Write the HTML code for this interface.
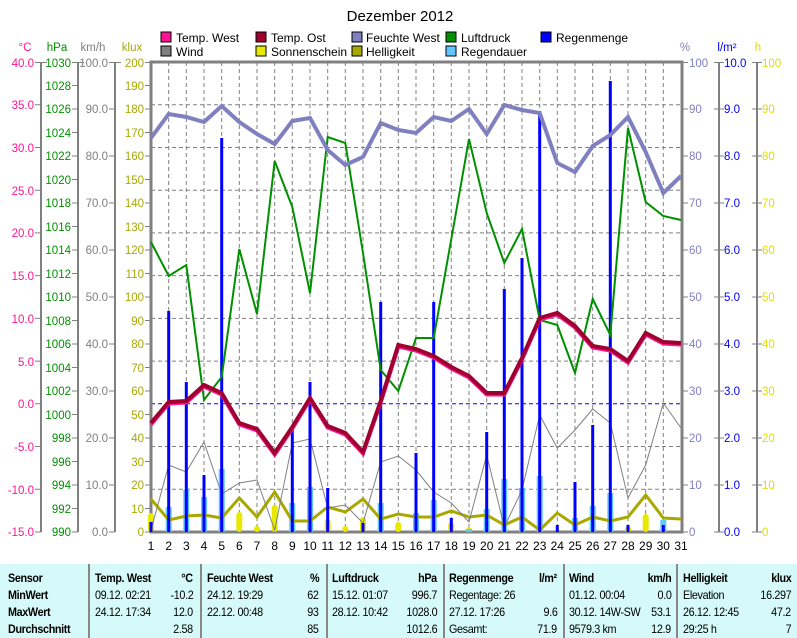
<!DOCTYPE html>
<html><head><meta charset="utf-8"><style>
body{margin:0;width:797px;height:638px;background:#fff;overflow:hidden;position:relative;font-family:"Liberation Sans",sans-serif}
svg{position:absolute;left:0;top:0}
#tb{position:absolute;left:0;top:564px;width:797px;height:74px;background:#d6fafa;font-family:"Liberation Sans Narrow","Liberation Sans",sans-serif;font-size:12px;color:#000}
.c{position:absolute;top:0;height:74px;border-left:2px solid #888}
.t{position:absolute;white-space:nowrap;line-height:17px;letter-spacing:-0.4px}
.l{transform-origin:left center;transform:scaleX(0.9)}
.r{transform-origin:right center;transform:scaleX(0.9)}
.b{font-weight:bold}
</style></head><body>
<svg width="797" height="564" xmlns="http://www.w3.org/2000/svg" font-family="Liberation Sans, sans-serif" font-size="11.5">
<text x="400" y="21" text-anchor="middle" font-size="15">Dezember 2012</text>
<g font-size="12">
<rect x="161" y="32" width="10" height="10" fill="#ff1493" stroke="#000"/><text x="176" y="42">Temp. West</text>
<rect x="161" y="46" width="10" height="10" fill="#808080" stroke="#000"/><text x="176" y="56">Wind</text>
<rect x="256" y="32" width="10" height="10" fill="#a00030" stroke="#000"/><text x="271" y="42">Temp. Ost</text>
<rect x="256" y="46" width="10" height="10" fill="#e8e800" stroke="#000"/><text x="271" y="56">Sonnenschein</text>
<rect x="352" y="32" width="10" height="10" fill="#8080c0" stroke="#000"/><text x="366" y="42">Feuchte West</text>
<rect x="352" y="46" width="10" height="10" fill="#a8a800" stroke="#000"/><text x="366" y="56">Helligkeit</text>
<rect x="446" y="32" width="10" height="10" fill="#009000" stroke="#000"/><text x="461" y="42">Luftdruck</text>
<rect x="446" y="46" width="10" height="10" fill="#60c8ff" stroke="#000"/><text x="461" y="56">Regendauer</text>
<rect x="541" y="32" width="10" height="10" fill="#0000ff" stroke="#000"/><text x="556" y="42">Regenmenge</text>
</g>
<text x="25" y="51" fill="#ff1493" text-anchor="middle">°C</text>
<text x="57" y="51" fill="#009000" text-anchor="middle">hPa</text>
<text x="93" y="51" fill="#808080" text-anchor="middle">km/h</text>
<text x="132" y="51" fill="#a8a800" text-anchor="middle">klux</text>
<text x="685" y="51" fill="#8080c0" text-anchor="middle">%</text>
<text x="727" y="51" fill="#0000ff" text-anchor="middle">l/m²</text>
<text x="758" y="51" fill="#e0e000" text-anchor="middle">h</text>
<g stroke="#808080" stroke-dasharray="4,3" stroke-width="1">
<path d="M168.7 62V532M186.3 62V532M204 62V532M221.7 62V532M239.3 62V532M257 62V532M274.7 62V532M292.3 62V532M310 62V532M327.7 62V532M345.3 62V532M363 62V532M380.7 62V532M398.3 62V532M416 62V532M433.7 62V532M451.3 62V532M469 62V532M486.7 62V532M504.3 62V532M522 62V532M539.7 62V532M557.3 62V532M575 62V532M592.7 62V532M610.3 62V532M628 62V532M645.7 62V532M663.3 62V532"/>
<path d="M151 104.7H681M151 147.5H681M151 190.2H681M151 232.9H681M151 275.6H681M151 318.4H681M151 361.1H681M151 446.5H681M151 489.3H681"/>
</g>
<path d="M151 403.8H681" stroke="#0000ff" stroke-dasharray="4,3"/>
<g stroke="#808080" stroke-width="2" fill="none">
<path d="M41 62V532M78 62V532M115 62V532M719 62V532M757 62V532"/>
<rect x="151" y="62" width="531" height="470" stroke-width="3"/>
</g>
<g stroke="#808080" stroke-width="1">
<path d="M35 62.5h12M35 104.7h6M35 147.5h6M35 190.2h6M35 232.9h6M35 275.6h6M35 318.4h6M35 361.1h6M35 403.8h6M35 446.5h6M35 489.3h6M35 532h6"/>
<path d="M72 62.5h12M72 85.5h6M72 109h6M72 132.5h6M72 156h6M72 179.5h6M72 203h6M72 226.5h6M72 250h6M72 273.5h6M72 297h6M72 320.5h6M72 344h6M72 367.5h6M72 391h6M72 414.5h6M72 438h6M72 461.5h6M72 485h6M72 508.5h6M72 532h6"/>
<path d="M109 62.5h12M109 109h6M109 156h6M109 203h6M109 250h6M109 297h6M109 344h6M109 391h6M109 438h6M109 485h6M109 532h6"/>
<path d="M145 62.5h6M145 85.5h6M145 109h6M145 132.5h6M145 156h6M145 179.5h6M145 203h6M145 226.5h6M145 250h6M145 273.5h6M145 297h6M145 320.5h6M145 344h6M145 367.5h6M145 391h6M145 414.5h6M145 438h6M145 461.5h6M145 485h6M145 508.5h6M145 532h6"/>
<path d="M682 62.5h6M682 109h6M682 156h6M682 203h6M682 250h6M682 297h6M682 344h6M682 391h6M682 438h6M682 485h6M682 532h6"/>
<path d="M714 62.5h10M714 109h10M714 156h10M714 203h10M714 250h10M714 297h10M714 344h10M714 391h10M714 438h10M714 485h10M714 532h10"/>
<path d="M752 62.5h10M752 109h10M752 156h10M752 203h10M752 250h10M752 297h10M752 344h10M752 391h10M752 438h10M752 485h10M752 532h10"/>
</g>
<g fill="#ff1493" text-anchor="end">
<text x="34" y="67">40.0</text><text x="34" y="109">35.0</text><text x="34" y="152">30.0</text><text x="34" y="195">25.0</text><text x="34" y="237">20.0</text><text x="34" y="280">15.0</text><text x="34" y="323">10.0</text><text x="34" y="366">5.0</text><text x="34" y="408">0.0</text><text x="34" y="451">-5.0</text><text x="34" y="494">-10.0</text><text x="34" y="536">-15.0</text>
</g>
<g fill="#009000" text-anchor="end">
<text x="71" y="67">1030</text><text x="71" y="90">1028</text><text x="71" y="113">1026</text><text x="71" y="137">1024</text><text x="71" y="160">1022</text><text x="71" y="184">1020</text><text x="71" y="207">1018</text><text x="71" y="231">1016</text><text x="71" y="254">1014</text><text x="71" y="278">1012</text><text x="71" y="301">1010</text><text x="71" y="325">1008</text><text x="71" y="348">1006</text><text x="71" y="372">1004</text><text x="71" y="395">1002</text><text x="71" y="419">1000</text><text x="71" y="442">998</text><text x="71" y="466">996</text><text x="71" y="489">994</text><text x="71" y="513">992</text><text x="71" y="536">990</text>
</g>
<g fill="#808080" text-anchor="end">
<text x="108" y="67">100.0</text><text x="108" y="113">90.0</text><text x="108" y="160">80.0</text><text x="108" y="207">70.0</text><text x="108" y="254">60.0</text><text x="108" y="301">50.0</text><text x="108" y="348">40.0</text><text x="108" y="395">30.0</text><text x="108" y="442">20.0</text><text x="108" y="489">10.0</text><text x="108" y="536">0.0</text>
</g>
<g fill="#a8a800" text-anchor="end">
<text x="144" y="67">200</text><text x="144" y="90">190</text><text x="144" y="113">180</text><text x="144" y="137">170</text><text x="144" y="160">160</text><text x="144" y="184">150</text><text x="144" y="207">140</text><text x="144" y="231">130</text><text x="144" y="254">120</text><text x="144" y="278">110</text><text x="144" y="301">100</text><text x="144" y="325">90</text><text x="144" y="348">80</text><text x="144" y="372">70</text><text x="144" y="395">60</text><text x="144" y="419">50</text><text x="144" y="442">40</text><text x="144" y="466">30</text><text x="144" y="489">20</text><text x="144" y="513">10</text><text x="144" y="536">0</text>
</g>
<g fill="#8080c0">
<text x="689" y="67">100</text><text x="689" y="113">90</text><text x="689" y="160">80</text><text x="689" y="207">70</text><text x="689" y="254">60</text><text x="689" y="301">50</text><text x="689" y="348">40</text><text x="689" y="395">30</text><text x="689" y="442">20</text><text x="689" y="489">10</text><text x="689" y="536">0</text>
</g>
<g fill="#0000ff">
<text x="724" y="67">10.0</text><text x="724" y="113">9.0</text><text x="724" y="160">8.0</text><text x="724" y="207">7.0</text><text x="724" y="254">6.0</text><text x="724" y="301">5.0</text><text x="724" y="348">4.0</text><text x="724" y="395">3.0</text><text x="724" y="442">2.0</text><text x="724" y="489">1.0</text><text x="724" y="536">0.0</text>
</g>
<g fill="#e0e000">
<text x="762" y="67">100</text><text x="762" y="113">90</text><text x="762" y="160">80</text><text x="762" y="207">70</text><text x="762" y="254">60</text><text x="762" y="301">50</text><text x="762" y="348">40</text><text x="762" y="395">30</text><text x="762" y="442">20</text><text x="762" y="489">10</text><text x="762" y="536">0</text>
</g>
<g text-anchor="middle" font-size="12">
<text x="151" y="550">1</text><text x="168.7" y="550">2</text><text x="186.3" y="550">3</text><text x="204" y="550">4</text><text x="221.7" y="550">5</text><text x="239.3" y="550">6</text><text x="257" y="550">7</text><text x="274.7" y="550">8</text><text x="292.3" y="550">9</text><text x="310" y="550">10</text><text x="327.7" y="550">11</text><text x="345.3" y="550">12</text><text x="363" y="550">13</text><text x="380.7" y="550">14</text><text x="398.3" y="550">15</text><text x="416" y="550">16</text><text x="433.7" y="550">17</text><text x="451.3" y="550">18</text><text x="469" y="550">19</text><text x="486.7" y="550">20</text><text x="504.3" y="550">21</text><text x="522" y="550">22</text><text x="539.7" y="550">23</text><text x="557.3" y="550">24</text><text x="575" y="550">25</text><text x="592.7" y="550">26</text><text x="610.3" y="550">27</text><text x="628" y="550">28</text><text x="645.7" y="550">29</text><text x="663.3" y="550">30</text><text x="681" y="550">31</text>
</g>
<g fill="#e8e800">
<rect x="148" y="513" width="6" height="19" rx="3"/><rect x="183.3" y="528" width="6" height="4" rx="2"/><rect x="201" y="526" width="6" height="6" rx="3"/><rect x="236.3" y="512" width="6" height="20" rx="3"/><rect x="254" y="526" width="6" height="6" rx="3"/><rect x="271.7" y="505" width="6" height="27" rx="3"/><rect x="324.7" y="519" width="6" height="13" rx="3"/><rect x="342.3" y="526" width="6" height="6" rx="3"/><rect x="360" y="517" width="6" height="15" rx="3"/><rect x="395.3" y="522" width="6" height="10" rx="3"/><rect x="448.3" y="522" width="6" height="10" rx="3"/><rect x="466" y="528" width="6" height="4" rx="2"/><rect x="642.7" y="514" width="6" height="18" rx="3"/><rect x="589.7" y="527" width="6" height="5" rx="2"/><rect x="625" y="527" width="6" height="5" rx="2"/><rect x="660.3" y="528" width="6" height="4" rx="2"/>
</g>
<g fill="#60c8ff">
<rect x="165.7" y="507" width="6" height="25"/><rect x="183.3" y="490" width="6" height="42"/><rect x="201" y="497" width="6" height="35"/><rect x="218.7" y="469" width="6" height="63"/><rect x="289.3" y="503" width="6" height="29"/><rect x="307" y="487" width="6" height="45"/><rect x="377.7" y="503" width="6" height="29"/><rect x="413" y="513" width="6" height="19"/><rect x="430.7" y="500" width="6" height="32"/><rect x="466" y="529" width="6" height="3"/><rect x="483.7" y="509" width="6" height="23"/><rect x="501.3" y="479" width="6" height="53"/><rect x="519" y="488" width="6" height="44"/><rect x="536.7" y="476" width="6" height="56"/><rect x="572" y="518" width="6" height="14"/><rect x="589.7" y="506" width="6" height="26"/><rect x="607.3" y="493" width="6" height="39"/><rect x="660.3" y="520" width="6" height="12"/>
</g>
<polyline fill="none" stroke="#a8a800" stroke-width="3" points="151,499 168.7,520 186.3,516 204,515 221.7,518 239.3,498 257,517 274.7,492 292.3,521 310,521 327.7,507 345.3,512 363,499 380.7,519 398.3,514 416,517 433.7,517 451.3,511 469,517 486.7,515 504.3,525 522,517 539.7,530 557.3,513 575,525 592.7,517 610.3,521 628,517 645.7,495 663.3,518 681,519"/>
<polyline fill="none" stroke="#808080" stroke-width="1" points="151,530 168.7,465 186.3,472 204,442 221.7,494 239.3,483 257,480 274.7,530 292.3,443 310,439 327.7,508 345.3,505 363,523 380.7,462 398.3,456 416,470 433.7,492 451.3,503 469,522 486.7,455 504.3,527 522,490 539.7,415 557.3,448 575,430 592.7,409 610.3,423 628,498 645.7,465 663.3,403 681,428"/>
<g fill="#0000ff">
<rect x="149.5" y="522" width="3" height="10"/><rect x="167.2" y="311" width="3" height="221"/><rect x="184.8" y="382" width="3" height="150"/><rect x="202.5" y="475" width="3" height="57"/><rect x="220.2" y="138" width="3" height="394"/><rect x="290.8" y="428" width="3" height="104"/><rect x="308.5" y="382" width="3" height="150"/><rect x="326.2" y="488" width="3" height="44"/><rect x="361.5" y="523" width="3" height="9"/><rect x="379.2" y="302" width="3" height="230"/><rect x="414.5" y="453" width="3" height="79"/><rect x="432.2" y="302" width="3" height="230"/><rect x="449.8" y="518" width="3" height="14"/><rect x="485.2" y="432" width="3" height="100"/><rect x="502.8" y="289" width="3" height="243"/><rect x="520.5" y="258" width="3" height="274"/><rect x="538.2" y="111" width="3" height="421"/><rect x="555.8" y="525" width="3" height="7"/><rect x="573.5" y="482" width="3" height="50"/><rect x="591.2" y="425" width="3" height="107"/><rect x="608.8" y="81" width="3" height="451"/><rect x="626.5" y="525" width="3" height="7"/><rect x="661.8" y="525" width="3" height="7"/>
</g>
<polyline fill="none" stroke="#009000" stroke-width="2" points="151,242 168.7,276 186.3,265 204,400 221.7,377 239.3,249 257,314 274.7,161 292.3,207 310,293 327.7,137 345.3,143 363,253 380.7,370 398.3,391 416,338 433.7,338 451.3,239 469,139 486.7,213 504.3,263 522,229 539.7,320 557.3,325 575,373 592.7,299 610.3,335 628,128 645.7,202 663.3,216 681,220"/>
<polyline fill="none" stroke="#8080c0" stroke-width="4" points="151,138 168.7,114 186.3,117 204,122 221.7,106 239.3,122 257,134 274.7,144 292.3,121 310,118 327.7,150 345.3,165 363,157 380.7,123 398.3,130 416,133 433.7,117 451.3,121 469,109 486.7,134 504.3,105 522,110 539.7,113 557.3,163 575,172 592.7,146 610.3,135 628,117 645.7,152 663.3,193 681,176"/>
<polyline fill="none" stroke="#ff1493" stroke-width="4" transform="translate(0,1.5)" points="151,423 168.7,402 186.3,401 204,385 221.7,393 239.3,423 257,429 274.7,453 292.3,427 310,398 327.7,426 345.3,433 363,452 380.7,401 398.3,345 416,349 433.7,356 451.3,367 469,376 486.7,393 504.3,393 522,358 539.7,318 557.3,313 575,326 592.7,346 610.3,349 628,361 645.7,333 663.3,342 681,343"/>
<polyline fill="none" stroke="#a00030" stroke-width="4" points="151,423 168.7,402 186.3,401 204,385 221.7,393 239.3,423 257,429 274.7,453 292.3,427 310,398 327.7,426 345.3,433 363,452 380.7,401 398.3,345 416,349 433.7,356 451.3,367 469,376 486.7,393 504.3,393 522,358 539.7,318 557.3,313 575,326 592.7,346 610.3,349 628,361 645.7,333 663.3,342 681,343"/>
</svg>
<div id="tb">
<div class="c" style="left:88px"></div><div class="c" style="left:200px"></div><div class="c" style="left:326px"></div><div class="c" style="left:443px"></div><div class="c" style="left:563px"></div><div class="c" style="left:676px"></div>
<div class="t b l" style="left:8px;top:6px">Sensor</div><div class="t b l" style="left:8px;top:23px">MinWert</div><div class="t b l" style="left:8px;top:40px">MaxWert</div><div class="t b l" style="left:8px;top:57px">Durchschnitt</div>
<div class="t b l" style="left:95px;top:6px">Temp. West</div><div class="t b r" style="right:604px;top:6px">°C</div>
<div class="t l" style="left:95px;top:23px">09.12.  02:21</div><div class="t r" style="right:604px;top:23px">-10.2</div>
<div class="t l" style="left:95px;top:40px">24.12.  17:34</div><div class="t r" style="right:604px;top:40px">12.0</div>
<div class="t r" style="right:604px;top:57px">2.58</div>
<div class="t b l" style="left:207px;top:6px">Feuchte West</div><div class="t b r" style="right:478px;top:6px">%</div>
<div class="t l" style="left:207px;top:23px">24.12.  19:29</div><div class="t r" style="right:478px;top:23px">62</div>
<div class="t l" style="left:207px;top:40px">22.12.  00:48</div><div class="t r" style="right:478px;top:40px">93</div>
<div class="t r" style="right:478px;top:57px">85</div>
<div class="t b l" style="left:332px;top:6px">Luftdruck</div><div class="t b r" style="right:360px;top:6px">hPa</div>
<div class="t l" style="left:332px;top:23px">15.12.  01:07</div><div class="t r" style="right:360px;top:23px">996.7</div>
<div class="t l" style="left:332px;top:40px">28.12.  10:42</div><div class="t r" style="right:360px;top:40px">1028.0</div>
<div class="t r" style="right:360px;top:57px">1012.6</div>
<div class="t b l" style="left:449px;top:6px">Regenmenge</div><div class="t b r" style="right:240px;top:6px">l/m²</div>
<div class="t l" style="left:449px;top:23px">Regentage: 26</div>
<div class="t l" style="left:449px;top:40px">27.12.  17:26</div><div class="t r" style="right:240px;top:40px">9.6</div>
<div class="t l" style="left:449px;top:57px">Gesamt:</div><div class="t r" style="right:240px;top:57px">71.9</div>
<div class="t b l" style="left:569px;top:6px">Wind</div><div class="t b r" style="right:126px;top:6px">km/h</div>
<div class="t l" style="left:569px;top:23px">01.12.  00:04</div><div class="t r" style="right:126px;top:23px">0.0</div>
<div class="t l" style="left:569px;top:40px">30.12.  14W-SW</div><div class="t r" style="right:126px;top:40px">53.1</div>
<div class="t l" style="left:569px;top:57px">9579.3 km</div><div class="t r" style="right:126px;top:57px">12.9</div>
<div class="t b l" style="left:683px;top:6px">Helligkeit</div><div class="t b r" style="right:6px;top:6px">klux</div>
<div class="t l" style="left:683px;top:23px">Elevation</div><div class="t r" style="right:6px;top:23px">16.297</div>
<div class="t l" style="left:683px;top:40px">26.12.  12:45</div><div class="t r" style="right:6px;top:40px">47.2</div>
<div class="t l" style="left:683px;top:57px">29:25 h</div><div class="t r" style="right:6px;top:57px">7</div>
</div>
</body></html>
